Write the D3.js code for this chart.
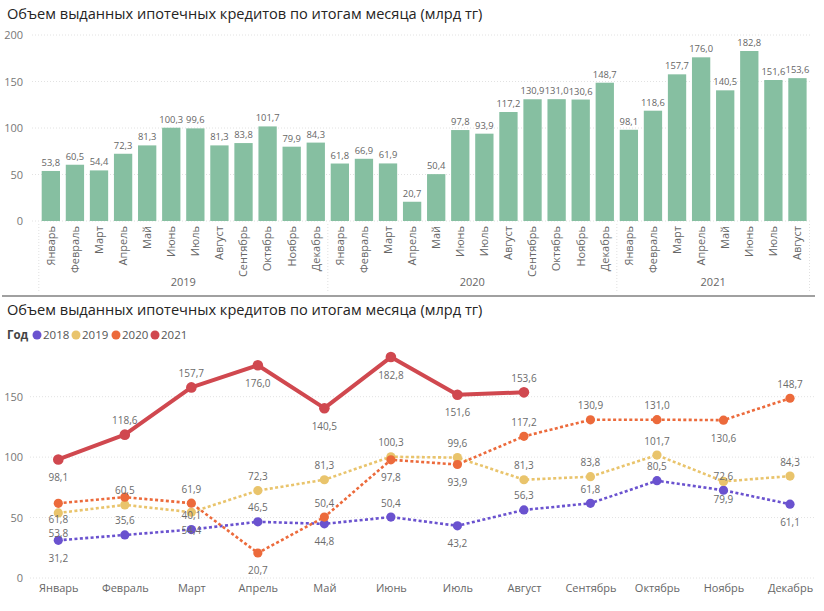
<!DOCTYPE html>
<html>
<head>
<meta charset="utf-8">
<script src="https://cdn.jsdelivr.net/npm/d3@7/dist/d3.min.js"></script>
<style>
html,body{margin:0;padding:0;background:#fff;}
svg{display:block;font-family:"Open Sans","Noto Sans",sans-serif;}
</style>
</head>
<body>
<svg id="chart" width="824" height="611"></svg>
<script>
const titleText = "Объем выданных ипотечных кредитов по итогам месяца (млрд тг)";
const months = ["Январь","Февраль","Март","Апрель","Май","Июнь","Июль","Август","Сентябрь","Октябрь","Ноябрь","Декабрь"];
const years = ["2018","2019","2020","2021"];
const barYears = ["2019","2020","2021"];
const values2018 = [31.2,35.6,40.1,46.5,44.8,50.4,43.2,56.3,61.8,80.5,72.6,61.1];
const values2019 = [53.8,60.5,54.4,72.3,81.3,100.3,99.6,81.3,83.8,101.7,79.9,84.3];
const values2020 = [61.8,66.9,61.9,20.7,50.4,97.8,93.9,117.2,130.9,131.0,130.6,148.7];
const values2021 = [98.1,118.6,157.7,176.0,140.5,182.8,151.6,153.6];
const topTicks = [0,50,100,150,200];
const bottomTicks = [0,50,100,150];

// label placement for the line chart (a = above, b = below, c = below close, d = below far, - = hidden)
const labelSide = {
  "2018": "baaababaaaab",
  "2019": "dabaaaaaaaba",
  "2020": "c-ababbaaaba",
  "2021": "baabbbba"
};
const sideOffset = {a:-14, b:18, c:16, d:21};
const colors = {"2018":"#6A52CF","2019":"#E9C46C","2020":"#EC6A3B","2021":"#D0484F"};
const barColor = "#86BFA1";

const seriesValues = {"2018":values2018,"2019":values2019,"2020":values2020,"2021":values2021};
const fmt = v => d3.format(".1f")(v).replace(".", ",");

const svg = d3.select("#chart");

/* ---------------- TOP: bar chart ---------------- */
svg.append("text").attr("x",7).attr("y",19)
  .attr("font-size",14.6).attr("fill","#252423").text(titleText);

const barData = [];
barYears.forEach(y => seriesValues[y].forEach((v,i) => barData.push({year:y, month:months[i], value:v})));

const yTop = d3.scaleLinear().domain([0,200]).range([221,35]);
const xTop = d3.scaleBand().domain(d3.range(barData.length)).range([38.8,809.5])
  .paddingInner(0.24).paddingOuter(0.12);

const gTopGrid = svg.append("g");
topTicks.forEach(t => {
  gTopGrid.append("line").attr("x1",32).attr("x2",812)
    .attr("y1",yTop(t)).attr("y2",yTop(t))
    .attr("stroke","#e2e2e2").attr("stroke-dasharray","1,2");
});
const yAxisTop = d3.axisLeft(yTop).tickValues(topTicks).tickSize(0).tickPadding(0);
svg.append("g").attr("transform","translate(23,0)").call(yAxisTop)
  .call(g => g.select(".domain").remove())
  .selectAll("text").attr("font-size",11).attr("fill","#777").attr("font-family","Open Sans");

svg.append("g").selectAll("rect").data(barData).join("rect")
  .attr("x",(d,i)=>xTop(i)).attr("width",xTop.bandwidth())
  .attr("y",d=>yTop(d.value)).attr("height",d=>yTop(0)-yTop(d.value))
  .attr("fill",barColor);

svg.append("g").selectAll("text").data(barData).join("text")
  .attr("x",(d,i)=>xTop(i)+xTop.bandwidth()/2).attr("y",d=>yTop(d.value)-5)
  .attr("text-anchor","middle").attr("font-size",9.4).attr("fill","#666")
  .text(d=>fmt(d.value));

svg.append("g").selectAll("text").data(barData).join("text")
  .attr("transform",(d,i)=>`translate(${xTop(i)+xTop.bandwidth()/2},226) rotate(-90)`)
  .attr("text-anchor","end").attr("dy","0.35em")
  .attr("font-size",11).attr("fill","#666").text(d=>d.month);

// year groups
const half = (xTop.step()-xTop.bandwidth())/2;
let startIdx = 0;
const seps = [];
barYears.forEach(y => {
  const n = seriesValues[y].length;
  const x0 = xTop(startIdx)-half;
  const x1 = xTop(startIdx+n-1)+xTop.bandwidth()+half;
  seps.push(x0);
  svg.append("text").attr("x",(x0+x1)/2).attr("y",282).attr("dy","0.35em")
    .attr("text-anchor","middle").attr("font-size",11).attr("fill","#666").text(y);
  startIdx += n;
});
seps.push(xTop(startIdx-1)+xTop.bandwidth()+half);
seps.forEach(x => {
  svg.append("line").attr("x1",x).attr("x2",x).attr("y1",224).attr("y2",291)
    .attr("stroke","#e0e0e0").attr("stroke-dasharray","1,2");
});

svg.append("line").attr("x1",2).attr("x2",815).attr("y1",296).attr("y2",296)
  .attr("stroke","#a0a0a0").attr("stroke-width",2);

/* ---------------- BOTTOM: line chart ---------------- */
svg.append("text").attr("x",7).attr("y",315)
  .attr("font-size",14.6).attr("fill","#252423").text(titleText);

// legend
const lg = svg.append("g").attr("transform","translate(0,335)");
lg.append("text").attr("x",7).attr("dy","0.35em").attr("font-size",11.5)
  .attr("font-weight","bold").attr("fill","#444").text("Год");
const legendX = [37,76,116,155];
years.forEach((y,i) => {
  lg.append("circle").attr("cx",legendX[i]).attr("cy",0).attr("r",4.5).attr("fill",colors[y]);
  lg.append("text").attr("x",legendX[i]+6).attr("dy","0.35em").attr("font-size",11.5)
    .attr("fill","#555").text(y);
});

const yB = d3.scaleLinear().domain([0,150]).range([578,396.7]);
const xB = d3.scalePoint().domain(months).range([58.3,790]);

bottomTicks.forEach(t => {
  svg.append("line").attr("x1",30).attr("x2",815).attr("y1",yB(t)).attr("y2",yB(t))
    .attr("stroke","#e2e2e2").attr("stroke-dasharray","1,2");
});
const yAxisB = d3.axisLeft(yB).tickValues(bottomTicks).tickSize(0).tickPadding(0);
svg.append("g").attr("transform","translate(23,0)").call(yAxisB)
  .call(g => g.select(".domain").remove())
  .selectAll("text").attr("font-size",11).attr("fill","#777").attr("font-family","Open Sans");

const xAxisB = d3.axisBottom(xB).tickSize(0).tickPadding(0);
svg.append("g").attr("transform","translate(0,588)").call(xAxisB)
  .call(g => g.select(".domain").remove())
  .selectAll("text").attr("dy","0.35em").attr("font-size",11).attr("fill","#666").attr("font-family","Open Sans");

const line = d3.line().x((d,i)=>xB(months[i])).y(d=>yB(d));
const labelLayer = [];
years.forEach(y => {
  const vals = seriesValues[y];
  const is21 = y === "2021";
  svg.append("path").datum(vals).attr("d",line)
    .attr("fill","none").attr("stroke",colors[y])
    .attr("stroke-width", is21 ? 4 : 2.6)
    .attr("stroke-dasharray", is21 ? null : "3,2.4")
    .attr("stroke-linejoin","round");
  svg.append("g").selectAll("circle").data(vals).join("circle")
    .attr("cx",(d,i)=>xB(months[i])).attr("cy",d=>yB(d))
    .attr("r", is21 ? 5.3 : 4.6).attr("fill",colors[y]);
  vals.forEach((v,i) => {
    const side = labelSide[y][i];
    if (side === "-") return;
    labelLayer.push({x:xB(months[i]), y:yB(v) + sideOffset[side], v});
  });
});
svg.append("g").selectAll("text").data(labelLayer).join("text")
  .attr("x",d=>d.x).attr("y",d=>d.y).attr("dy","0.35em")
  .attr("text-anchor","middle").attr("font-size",10).attr("fill","#6b6b6b")
  .text(d=>fmt(d.v));
</script>
</body>
</html>
